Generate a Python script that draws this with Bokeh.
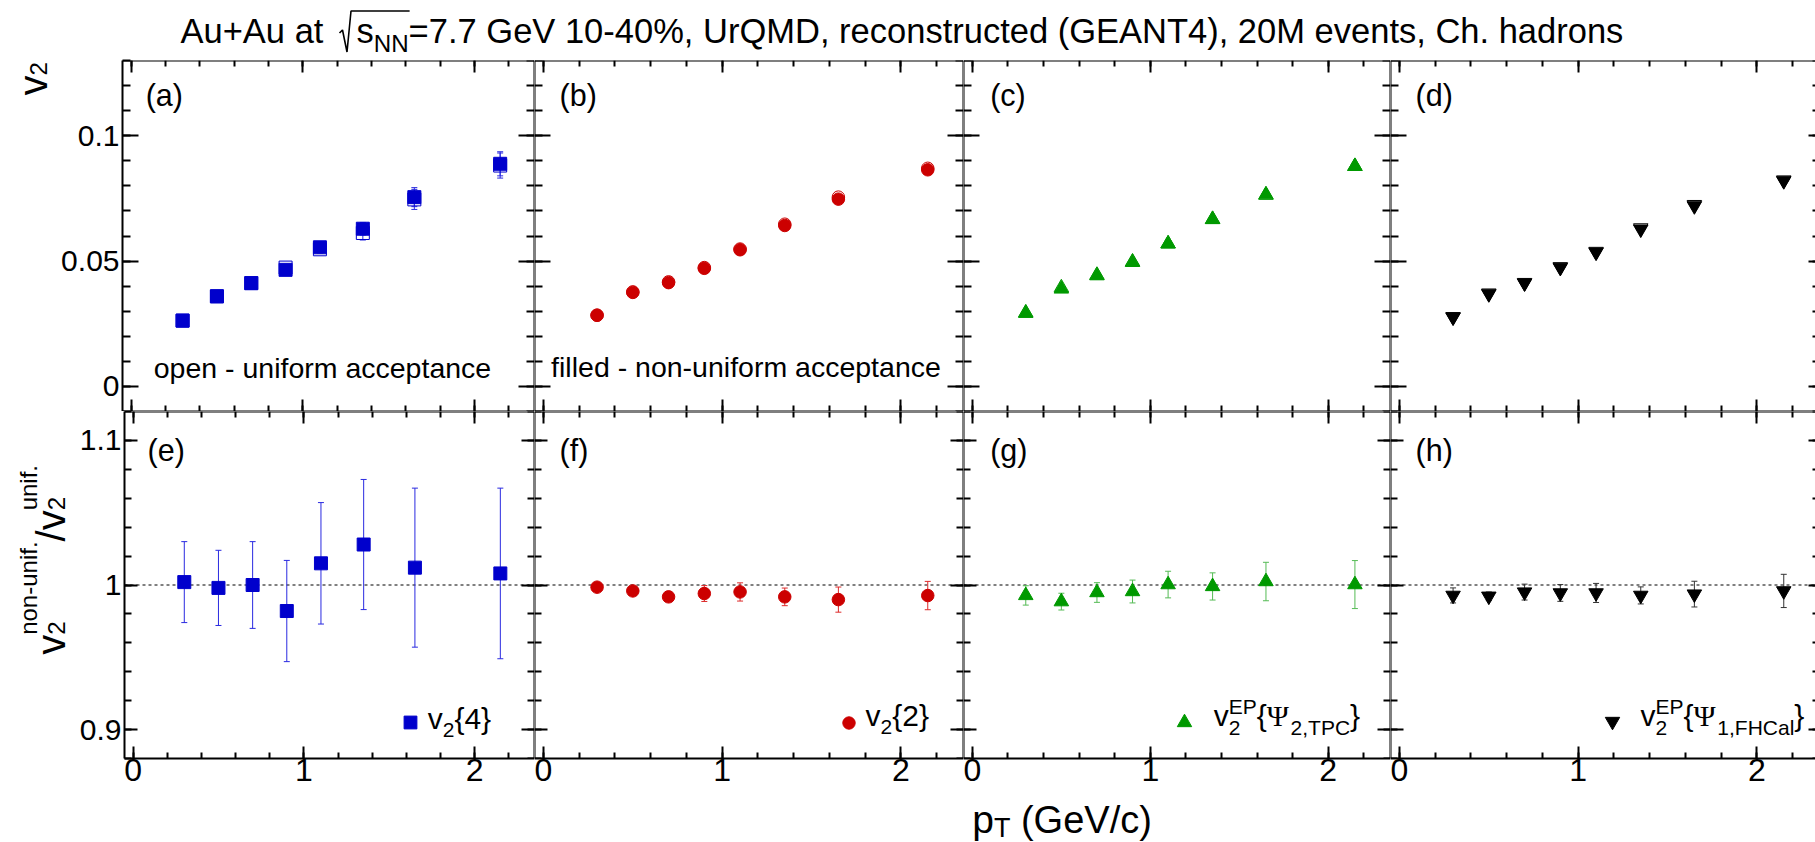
import math

from bokeh.plotting import figure
from bokeh.layouts import row, column
from bokeh.models import (Range1d, LinearAxis, SingleIntervalTicker, CustomJSTickFormatter,
                          ColumnDataSource, Whisker, TeeHead, Span, Label, Legend, LegendItem)
from bokeh.core.properties import value
from bokeh.embed import file_html
from bokeh.resources import INLINE

# ---------------------------------------------------------------- data
pt = [0.3, 0.5, 0.7, 0.9, 1.1, 1.35, 1.65, 2.15]

# v2{4}
v24_nonunif = [0.0263, 0.0359, 0.0412, 0.0465, 0.0555, 0.0629, 0.0755, 0.0888]
v24_nonunif_err = [0.0005, 0.0007, 0.0008, 0.0010, 0.0015, 0.0025, 0.0038, 0.0048]
v24_unif = [0.0262, 0.0360, 0.0412, 0.0474, 0.0547, 0.0612, 0.0746, 0.0881]
v24_unif_err = [0.0005, 0.0007, 0.0008, 0.0010, 0.0015, 0.0028, 0.0040, 0.0050]
# v2{2}
v22_nonunif = [0.0284, 0.0375, 0.0414, 0.0471, 0.0545, 0.0642, 0.0747, 0.0864]
v22_unif = [0.0284, 0.0377, 0.0417, 0.0474, 0.0548, 0.0647, 0.0755, 0.0870]
# v2^EP{Psi_2,TPC}
v2tpc_nonunif = [0.0292, 0.0389, 0.0442, 0.0495, 0.0569, 0.0666, 0.0765, 0.0878]
v2tpc_unif = [0.0294, 0.0394, 0.0444, 0.0497, 0.0569, 0.0667, 0.0763, 0.0878]
# v2^EP{Psi_1,FHCal}
v2fhcal_nonunif = [0.0276, 0.0369, 0.0412, 0.0474, 0.0535, 0.0627, 0.0720, 0.0820]
v2fhcal_unif = [0.0278, 0.0372, 0.0414, 0.0477, 0.0538, 0.0632, 0.0725, 0.0823]

# non-uniform / uniform ratios
ratio_v24 = [1.002, 0.998, 1.000, 0.982, 1.015, 1.028, 1.012, 1.008]
ratio_v24_err = [0.028, 0.026, 0.030, 0.035, 0.042, 0.045, 0.055, 0.059]
ratio_v22 = [0.9985, 0.9959, 0.9918, 0.9941, 0.9952, 0.9918, 0.9899, 0.9927]
ratio_v22_err = [0.0012, 0.0015, 0.0020, 0.0055, 0.0063, 0.0061, 0.0087, 0.0098]
ratio_tpc = [0.9928, 0.9885, 0.9948, 0.9955, 1.0003, 0.9990, 1.0024, 1.0003]
ratio_tpc_err = [0.0067, 0.0058, 0.0068, 0.0079, 0.0092, 0.0094, 0.0133, 0.0166]
ratio_fhcal = [0.9928, 0.9922, 0.9951, 0.9945, 0.9945, 0.9928, 0.9937, 0.9959]
ratio_fhcal_err = [0.0052, 0.0030, 0.0055, 0.0058, 0.0066, 0.0059, 0.0089, 0.0115]

top_tags = ["(a)", "(b)", "(c)", "(d)"]
bottom_tags = ["(e)", "(f)", "(g)", "(h)"]
title_lead = "Au+Au at"
title_tail = "=7.7 GeV 10-40%, UrQMD, reconstructed (GEANT4), 20M events, Ch. hadrons"

# ---------------------------------------------------------------- style
SANS = "Liberation Sans"
SERIF = "Liberation Serif"
BLUE, RED, GREEN, BLACK = "#0000cc", "#cc0000", "#009900", "#000000"

PAGE_W = 1815
TITLE_H = 56
TOP_PAD = 4
TOP_FRAME_H = 351
BOT_FRAME_H = 347
BOT_PAD = 38
XTITLE_H = 842 - TITLE_H - TOP_PAD - TOP_FRAME_H - BOT_FRAME_H - BOT_PAD
LEFT = 122
YTITLE_W = [56, 76]
FRAME_W = [412, 429, 427, 425]
FULL_W = 429
X_START, X_END = -0.05, 2.35
TOP_Y0 = TITLE_H + TOP_PAD
BOT_Y0 = TOP_Y0 + TOP_FRAME_H
FMT = "return String(parseFloat(tick.toFixed(3)));"
K_MID = 0.31   # baseline sits this many em below the centre of a text box

# Arial/Liberation Sans advance widths (em)
ADV = {' ': .278, '(': .333, ')': .333, ',': .278, '-': .333, '.': .278, '/': .278,
       '=': .584, '+': .584, '%': .889, '{': .334, '}': .334,
       'A': .667, 'C': .722, 'D': .722, 'E': .667, 'F': .611, 'G': .778, 'H': .722,
       'M': .833, 'N': .722, 'P': .667, 'Q': .778, 'T': .611, 'U': .722, 'V': .667,
       'a': .556, 'c': .5, 'd': .556, 'e': .556, 'f': .278, 'h': .556, 'i': .222,
       'l': .222, 'm': .833, 'n': .556, 'o': .556, 'p': .556, 'r': .333, 's': .5,
       't': .278, 'u': .556, 'v': .5, '\u03a8': .79}


def adv(s, size):
    return sum(ADV.get(c, 0.556) for c in s) * size


def put_runs(p, x, y, tokens, size, small=None, angle=0.0, sub=0.3, sup=0.4, color="black"):
    """Lay out text pieces with sub/superscripts; (x, y) is the start of the baseline."""
    small = small or 0.7 * size
    ca, sa = math.cos(angle), math.sin(angle)
    pos = [0.0]

    def emit(text, shift, fsize, fam):
        lead = len(text) - len(text.lstrip(" "))
        a = pos[0] + adv(" " * lead, fsize)
        sh = shift + K_MID * fsize
        p.add_layout(Label(x=x, y=y, x_offset=a * ca - sh * sa, y_offset=a * sa + sh * ca,
                           text=text.strip(" "), angle=angle, text_font=fam,
                           text_font_size=f"{fsize:.2f}px", text_color=color,
                           text_align="left", text_baseline="middle"))

    for tok in tokens:
        kind = tok[0]
        if kind == "t":
            emit(tok[1], 0.0, size, SANS)
            pos[0] += adv(tok[1], size)
        elif kind == "T":
            emit(tok[1], 0.0, tok[2], SANS)
            pos[0] += adv(tok[1], tok[2])
        elif kind == "g":
            emit(tok[1], 0.0, size, SERIF)
            pos[0] += adv(tok[1], size)
        else:
            lo, hi = tok[1], tok[2]
            w = 0.0
            if lo:
                emit(lo, -sub * size, small, SANS)
                w = max(w, adv(lo, small))
            if hi:
                emit(hi, sup * size, small, SANS)
                w = max(w, adv(hi, small))
            pos[0] += w
    return pos[0]


def blank(w, h, xr, yr):
    return figure(width=w, height=h, x_range=Range1d(*xr), y_range=Range1d(*yr),
                  x_axis_type=None, y_axis_type=None, toolbar_location=None,
                  output_backend="svg", title=None, outline_line_color=None,
                  min_border_left=0, min_border_right=0, min_border_top=0, min_border_bottom=0)


def add_axis(p, side, interval, maj, mnr, labelled, fixed=None, line=True, font_size="30px",
             standoff=3):
    a = LinearAxis(ticker=SingleIntervalTicker(interval=interval, num_minor_ticks=5),
                   formatter=CustomJSTickFormatter(code=FMT),
                   axis_line_width=2, axis_line_color="black" if line else None,
                   major_tick_line_width=2, minor_tick_line_width=2,
                   major_tick_line_color="black", minor_tick_line_color="black",
                   major_tick_in=maj, major_tick_out=0, minor_tick_in=mnr, minor_tick_out=0,
                   major_label_standoff=standoff, major_label_text_font=SANS,
                   major_label_text_font_size=font_size, major_label_text_color="black")
    if not labelled:
        a.major_label_text_color = None
        a.fixed_location = fixed
    p.add_layout(a, side)


series = [
    dict(marker="square", size=13, color=BLUE, err_color="#2a2ae0",
         top=(v24_nonunif, v24_nonunif_err, v24_unif, v24_unif_err),
         ratio=(ratio_v24, ratio_v24_err),
         key=(1.618, 0.9046), text_at=(1.725, 0.9012),
         text=[("t", "v"), ("s", "2", None), ("t", "{4}")]),
    dict(marker="circle", size=12.5, color=RED, err_color="#dd2a2a",
         top=(v22_nonunif, None, v22_unif, None),
         ratio=(ratio_v22, ratio_v22_err),
         key=(1.712, 0.9048), text_at=(1.802, 0.9032),
         text=[("t", "v"), ("s", "2", None), ("t", "{2}")]),
    dict(marker="triangle", size=14.5, color=GREEN, err_color="#55bb55",
         top=(v2tpc_nonunif, None, v2tpc_unif, None),
         ratio=(ratio_tpc, ratio_tpc_err),
         key=(1.191, 0.9047), text_at=(1.357, 0.9030),
         text=[("t", "v"), ("s", "2", "EP"), ("t", "{"), ("g", "\u03a8"), ("s", "2,TPC", None), ("t", "}")]),
    dict(marker="inverted_triangle", size=14.5, color=BLACK, err_color="#333333",
         top=(v2fhcal_nonunif, None, v2fhcal_unif, None),
         ratio=(ratio_fhcal, ratio_fhcal_err),
         key=(1.193, 0.9054), text_at=(1.349, 0.9030),
         text=[("t", "v"), ("s", "2", "EP"), ("t", "{"), ("g", "\u03a8"), ("s", "1,FHCal", None), ("t", "}")]),
]

tag_x = [0.085, 0.09, 0.10, 0.09]


def add_whisker(p, x, y, e, color):
    src = ColumnDataSource(dict(x=x, lo=[v - d for v, d in zip(y, e)], hi=[v + d for v, d in zip(y, e)]))
    p.add_layout(Whisker(source=src, base="x", lower="lo", upper="hi", dimension="height",
                         line_color=color, line_width=1, level="underlay",
                         upper_head=TeeHead(size=6, line_color=color, line_width=1),
                         lower_head=TeeHead(size=6, line_color=color, line_width=1)))


def make_panel(col, top):
    s = series[col]
    frame_w = FRAME_W[col]
    left = (LEFT - YTITLE_W[0 if top else 1]) if col == 0 else 0
    x_end = X_START + (X_END - X_START) * frame_w / FULL_W if col == 3 else X_END
    y_lo, y_hi = (-0.01, 0.13) if top else (0.88, 1.12)
    frame_h = TOP_FRAME_H if top else BOT_FRAME_H
    height = TOP_PAD + TOP_FRAME_H if top else BOT_FRAME_H + BOT_PAD
    p = figure(width=left + frame_w, height=height,
               x_range=Range1d(X_START, x_end), y_range=Range1d(y_lo, y_hi),
               x_axis_type=None, y_axis_type=None, toolbar_location=None,
               output_backend="svg", title=None, outline_line_color=None,
               min_border_left=left, min_border_right=0,
               min_border_top=TOP_PAD if top else 0, min_border_bottom=0 if top else BOT_PAD)

    xs = frame_w / (x_end - X_START)
    ys = frame_h / (y_hi - y_lo)

    y_int = 0.05 if top else 0.1
    ymaj, ymin = (16, 8) if top else (13, 7)
    add_axis(p, "below", 1, 12, 6, labelled=not top, fixed=y_lo, font_size="32px", standoff=0)
    add_axis(p, "above", 1, 12, 6, labelled=False, fixed=y_hi)
    add_axis(p, "left", y_int, ymaj, ymin, labelled=(col == 0), fixed=X_START)
    if col == 3:
        add_axis(p, "right", y_int, 7, 3, labelled=False, fixed=x_end, line=False)
    else:
        add_axis(p, "right", y_int, ymaj, ymin, labelled=False, fixed=x_end)

    mk = dict(marker=s["marker"], size=s["size"])
    if top:
        vals, errs, uvals, uerrs = s["top"]
        if uerrs:
            add_whisker(p, pt, uvals, uerrs, s["err_color"])
        if errs:
            add_whisker(p, pt, vals, errs, s["err_color"])
        p.scatter(x=pt, y=uvals, fill_color=None, line_color=s["color"], line_width=1, **mk)
        p.scatter(x=pt, y=vals, fill_color=s["color"], line_color=s["color"], **mk)
        put_runs(p, tag_x[col], 0.1125, [("t", top_tags[col])], 30.5)
        if col == 0:
            put_runs(p, 0.132, 0.0038, [("t", "open - uniform acceptance")], 28.5)
        if col == 1:
            put_runs(p, 0.043, 0.0042, [("t", "filled - non-uniform acceptance")], 28.5)
    else:
        ratio, rerr = s["ratio"]
        p.add_layout(Span(location=1.0, dimension="width", line_color="black", line_width=1,
                          line_dash="3 3", level="underlay"))
        add_whisker(p, pt, ratio, rerr, s["err_color"])
        r = p.scatter(x=pt, y=ratio, fill_color=s["color"], line_color=s["color"], **mk)
        # legend key drawn by the library from the data renderer
        g = int(round(s["size"] / 0.4))
        kx, ky = s["key"]
        sx = int(round((kx - X_START) * xs - g / 2))
        sy = int(round((ky - y_lo) * ys - g / 2))
        p.add_layout(Legend(items=[LegendItem(label=value(" "), renderers=[r])],
                            location=(sx, sy), padding=0, margin=0, spacing=0,
                            glyph_width=g, glyph_height=g, label_standoff=0,
                            label_width=0, label_height=g, label_text_font_size="1px",
                            background_fill_alpha=0, border_line_alpha=0))
        tx, ty = s["text_at"]
        put_runs(p, tx, ty, s["text"], 30, sub=0.3, sup=0.4)
        put_runs(p, tag_x[col], 1.0867, [("t", bottom_tags[col])], 30.5)
    return p


# ---------------------------------------------------------------- title
T = 34.5
title_fig = blank(PAGE_W, TITLE_H, (0, PAGE_W), (TITLE_H, 0))
TB = 41.5
put_runs(title_fig, 180, TB, [("t", title_lead)], T)
s_x = 356
put_runs(title_fig, s_x, TB, [("t", "s"), ("s", "NN", None), ("t", title_tail)], T, sub=0.26)
rad_end = s_x + adv("s", T) + adv("NN", 0.7 * T)
# radical sign over s_NN
title_fig.line(x=[s_x - 17, s_x - 14, s_x - 9.5, s_x - 5.5, rad_end + 1],
               y=[TB - 9, TB - 12, TB + 10, TB - 31, TB - 31], line_color="black", line_width=1.6)

# ---------------------------------------------------------------- y titles (page pixel coordinates)
ytop = blank(YTITLE_W[0], TOP_PAD + TOP_FRAME_H, (0, YTITLE_W[0]), (BOT_Y0, TITLE_H))
put_runs(ytop, 45, 91.5, [("t", "v"), ("s", "2", None)], 40, small=24,
         angle=math.pi / 2, sub=0.0)

ybot = blank(YTITLE_W[1], BOT_FRAME_H + BOT_PAD, (0, YTITLE_W[1]), (BOT_Y0 + BOT_FRAME_H + BOT_PAD, BOT_Y0))
put_runs(ybot, 63, 681,
         [("t", "v"), ("s", "2", "non-unif."), ("t", "/"), ("t", "v"), ("s", "2", "unif.")],
         40, small=24, angle=math.pi / 2, sub=0.0, sup=0.7)

# ---------------------------------------------------------------- x title
xt_top = 842 - XTITLE_H
xtitle = blank(PAGE_W, XTITLE_H, (0, PAGE_W), (842, xt_top))
put_runs(xtitle, 971.7, 831.5, [("T", "p", 39), ("s", "T", None), ("T", " (GeV/c)", 38)], 38,
         small=27, sub=0.12)

top_row = row(ytop, *[make_panel(c, True) for c in range(4)])
bot_row = row(ybot, *[make_panel(c, False) for c in range(4)])
layout = column(title_fig, top_row, bot_row, xtitle)

open("out.html", "w").write(file_html(layout, INLINE))
